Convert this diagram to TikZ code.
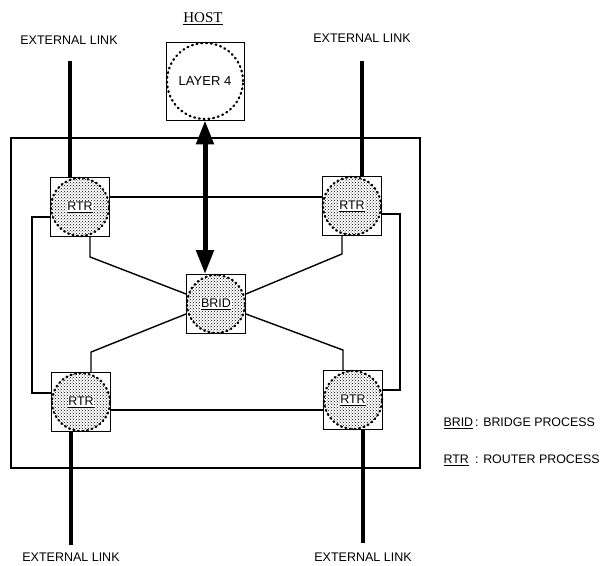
\documentclass[tikz,border=0pt]{standalone}
\usepackage{fontspec}
\setmainfont{Liberation Serif}
\setsansfont{Liberation Sans}
\usetikzlibrary{arrows.meta, positioning, patterns}

\begin{document}
\begin{tikzpicture}[x=1pt, y=-1pt,
  every node/.style={font=\sffamily\fontsize{12.5}{14}\selectfont},
  procbox/.style={draw, line width=0.9pt, minimum size=59pt, inner sep=0pt},
  stipple/.style={circle, minimum size=58pt, inner sep=0pt, pattern=crosshatch dots,
    draw, line width=2.2pt, line cap=round, dash pattern=on 1pt off 3.6pt},
  hostring/.style={circle, minimum size=76pt, inner sep=0pt,
    draw, line width=2.2pt, line cap=round, dash pattern=on 1pt off 3.8pt},
  procname/.style={fill=white, inner sep=0.6pt},
  link/.style={line width=1.4pt},
  extlink/.style={line width=3.2pt},
  frame/.style={line width=2.3pt},
  hostarrow/.style={line width=5pt,
    {Triangle[length=24pt,width=17pt]}-{Triangle[length=24pt,width=17pt]}},
  legend/.style={anchor=west, font=\sffamily\fontsize{12.4}{14}\selectfont}
]
\useasboundingbox (0,0) rectangle (607,565);

% router frame
\draw[frame] (11,138) rectangle (420,468);

% host
\node[font=\rmfamily\fontsize{15}{17}\selectfont] (hostlbl) at (203,19) {\underline{HOST}};
\node[procbox, minimum size=78pt] (layer4) at (205,81) {};
\node[hostring, font=\sffamily\fontsize{13}{15}\selectfont] at (layer4) {LAYER 4};

% processes
\foreach \name/\pos/\txt in {rtrTL/{80,207}/RTR, rtrTR/{352,206}/RTR,
    brid/{216,304}/BRID, rtrBL/{81,402}/RTR, rtrBR/{353,400}/RTR} {
  \node[procbox] (\name) at (\pos) {};
  \node[stipple] at (\name) {};
  \node[procname] at (\name) {\underline{\txt}};
}

% external links
\node (extTL) at (69,40) {EXTERNAL LINK};
\node (extTR) at (362,38) {EXTERNAL LINK};
\node (extBL) at (71,557) {EXTERNAL LINK};
\node (extBR) at (363,557) {EXTERNAL LINK};
\draw[extlink, shorten >=13pt] ([xshift=-10pt]rtrTL.north) -- ([xshift=-10pt]rtrTL.north |- extTL.south);
\draw[extlink, shorten >=15pt] ([xshift=10pt]rtrTR.north) -- ([xshift=10pt]rtrTR.north |- extTR.south);
\draw[extlink, shorten >=4pt] ([xshift=-10pt]rtrBL.south) -- ([xshift=-10pt]rtrBL.south |- extBL.north);
\draw[extlink, shorten >=6pt] ([xshift=10pt]rtrBR.south) -- ([xshift=10pt]rtrBR.south |- extBR.north);

% internal links
\draw[link] ([yshift=10pt]rtrTL.east) -- ([yshift=10pt]rtrTL.east -| rtrTR.west);
\draw[link] ([yshift=-8pt]rtrBL.east) -- ([yshift=-8pt]rtrBL.east -| rtrBR.west);
\draw[link] ([yshift=-10pt]rtrTL.west) -- ++(-18,0) |- ([yshift=9pt]rtrBL.west);
\draw[link] ([yshift=-8pt]rtrTR.east) -- ++(18,0) |- ([yshift=10pt]rtrBR.east);
\draw[link] ([xshift=10pt]rtrTL.south) -- ++(0,20) -- ([yshift=10pt]brid.west);
\draw[link] ([xshift=10pt]rtrBL.north) -- ++(0,-20) -- ([yshift=-10pt]brid.west);
\draw[link] ([xshift=-10pt]rtrTR.south) -- ++(0,18) -- ([yshift=10pt]brid.east);
\draw[link] ([xshift=-10pt]rtrBR.north) -- ++(0,-20) -- ([yshift=-10pt]brid.east);

% host to bridge
\draw[hostarrow] (layer4.south) -- (layer4.south |- brid.north);

% legend
\node[legend] (legBrid) at (440,423) {\underline{BRID}\,: BRIDGE PROCESS};
\node[legend] (legRtr) at (440,460) {\rlap{\underline{RTR}}\phantom{BRID}\,: ROUTER PROCESS};
\end{tikzpicture}
\end{document}
